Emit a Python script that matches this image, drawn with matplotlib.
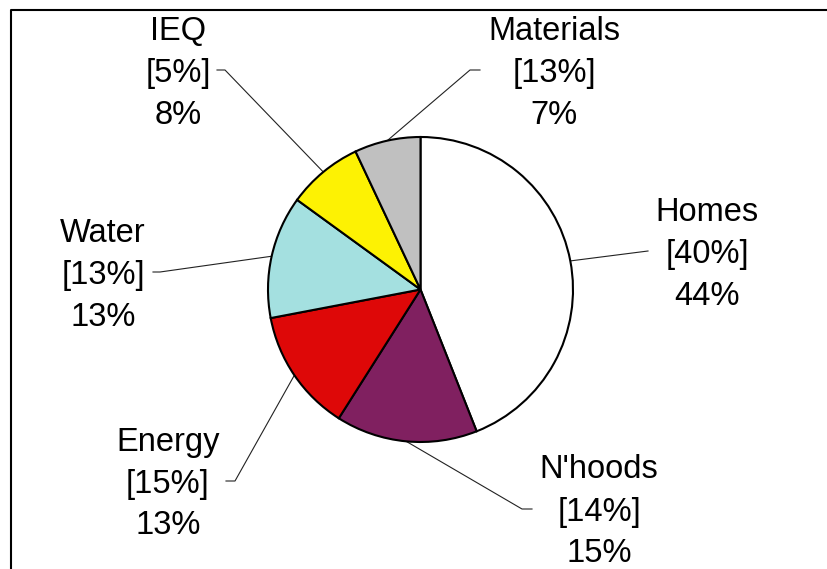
import numpy as np
import matplotlib.pyplot as plt

names = ["Homes", "N'hoods", "Energy", "Water", "IEQ", "Materials"]
prior = [40, 14, 15, 13, 5, 13]
shares = [44, 15, 13, 13, 8, 7]
colors = ["#ffffff", "#802060", "#de0808", "#a4e0e0", "#fdf203", "#c0c0c0"]

plt.rcParams['font.family'] = ['Liberation Sans', 'DejaVu Sans']

W, H = 827, 569
fig = plt.figure(figsize=(W / 100, H / 100), dpi=100)
ax = fig.add_axes([0, 0, 1, 1])

# pie centre/radius in pixels (y measured from the top)
cx, cy, r = 420.5, H - 289.5, 152.5
wedges, _ = ax.pie(shares, colors=colors, startangle=90, counterclock=False,
                   center=(cx, cy), radius=r, frame=True,
                   wedgeprops=dict(edgecolor='black', linewidth=1.5))
ax.set_xlim(0, W)
ax.set_ylim(0, H)
ax.set_aspect('auto')
ax.axis('off')

# label layout: centre x, middle-line y (from top), leader stub (outer x, inner x)
label_pos = [(707, 251), (599, 509), (168, 481), (103, 272), (178, 70), (554, 70)]
stubs = [(648, 648), (532, 522), (226, 235), (153, 160), (217, 225), (480, 470)]
gap = 42

for w, name, p, s, (lx, ly), (sx0, sx1) in zip(wedges, names, prior, shares, label_pos, stubs):
    lines = [name, f"[{p}%]", f"{s}%"]
    for k, t in enumerate(lines):
        ax.text(lx, H - (ly + (k - 1) * gap + 11.5), t, ha='center',
                va='baseline', fontsize=23.5, color='black')
    mid = np.deg2rad((w.theta1 + w.theta2) / 2)
    ex, ey = cx + r * np.cos(mid), cy + r * np.sin(mid)
    ax.plot([sx0, sx1, ex], [H - ly, H - ly, ey], color='#222222', lw=0.8,
            zorder=0)

# outer frame (top and left edges visible)
ax.plot([11, 11, W + 5], [-5, H - 10, H - 10], color='black', lw=1.5,
        clip_on=False)

fig.savefig('out.png', dpi=100)
